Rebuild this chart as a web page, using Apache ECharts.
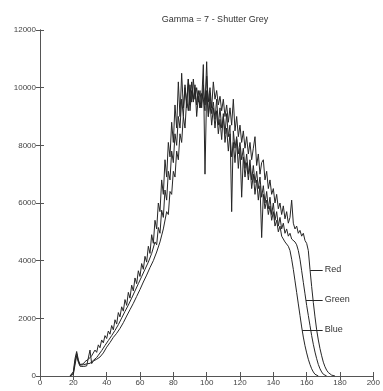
<!DOCTYPE html>
<html>
<head>
<meta charset="utf-8">
<script src="https://cdn.jsdelivr.net/npm/echarts@6/dist/echarts.min.js"></script>
<style>html,body{margin:0;padding:0;background:#fff}#c{width:383px;height:391px}</style>
</head>
<body>
<div id="c"></div>
<script>
const titleText = 'Gamma = 7 - Shutter Grey';
const xTicks = [0, 20, 40, 60, 80, 100, 120, 140, 160, 180, 200];
const yTicks = [0, 2000, 4000, 6000, 8000, 10000, 12000];
const firstBin = 18;

const blue = [0,0,150,600,850,560,400,440,420,500,470,580,540,700,650,900,820,1080,980,1250,1150,1400,1300,1560,1450,1750,1600,1950,1800,2200,2050,2400,2250,2650,2450,2900,2700,3150,2950,3400,3200,3650,3450,3900,3700,4150,3950,4500,4250,4900,4600,5400,5100,6000,5700,6800,6300,7500,6900,8100,7600,8800,8100,9400,8600,10200,9000,10500,9300,10000,9500,10300,9200,9900,9600,10100,9000,9700,9300,9500,10800,7000,
9900,9000,9500,8700,9300,8600,9200,8400,8900,8200,9100,8100,8600,7800,8400,7600,8100,7400,8200,7200,7900,6200,7600,6900,7400,6800,7300,6500,7000,6300,6800,6100,6600,4800,6300,5800,6100,5600,5900,5400,5700,5200,5400,5000,5200,4850,4900,4650,4700,4500,4350,4050,3700,3300,2900,2500,2100,1700,1350,1050,800,580,400,250,140,60,20,0];

const green = [0,0,100,480,780,520,380,360,390,370,420,400,
440,500,540,600,640,720,780,880,940,1060,
1110,1230,1270,1400,1430,1580,1600,1780,1800,2010,
2020,2240,2230,2460,2450,2700,2680,2950,2920,3200,
3170,3450,3420,3700,3660,3950,3920,4250,4200,4650,
4550,5150,4950,5750,5500,6450,6100,7100,6800,7800,
7400,8400,8000,9000,8600,9600,9000,10100,9300,10300,
9400,10200,9500,10000,9400,9900,9300,9800,9600,9200,
10900,9000,9800,9100,9500,8900,9600,8700,9300,8600,9000,8400,9100,8300,8700,5700,8500,7900,8300,7700,8100,7500,7900,7200,7700,7000,7500,6800,7300,6700,7100,6500,6900,6200,6600,6000,6400,5800,6200,5600,6000,5400,5700,5200,5500,5100,5300,4950,5100,4850,4950,4750,4800,4650,4550,4350,4050,3650,3250,2850,2450,2100,1750,1400,1100,830,600,400,250,140,60,20,0];

const red = [0,0,60,380,700,480,340,310,330,320,350,340,
900,430,520,480,580,540,660,620,800,780,
1000,950,1160,1120,1340,1280,1480,1430,1650,1600,
1850,1800,2080,2020,2300,2240,2520,2460,2760,2700,
3000,2950,3260,3200,3500,3450,3760,3700,4000,3950,
4300,4250,4650,4600,5100,5100,5700,5600,6400,6300,
7100,6900,7800,7500,8400,8100,9000,8600,9600,9200,
10100,9500,10300,9600,10000,9500,9900,9300,10100,9400,
10400,9500,10000,9300,10200,9600,9900,9400,9700,9200,9600,9000,9400,8800,9300,8700,9600,8500,9000,8300,8700,8100,8500,7900,8300,7700,8100,7500,7900,8300,7300,7700,7000,7400,7500,6800,7100,6500,6800,6300,6500,6000,6300,5800,6000,5600,5900,5450,5700,5300,5500,6100,5300,5100,5200,4950,5050,4850,4950,4700,4600,4350,3700,3100,2550,2050,1600,1250,950,700,480,320,200,120,70,30,10,0];

const seriesNames = ['Red', 'Green', 'Blue'];
const labelLevels = [3676, 2636, 1595];
const labelStarts = [162.1, 159.6, 157.3];
const labelEnd = 169.6;

const toPairs = arr => arr.map((v, i) => [firstBin + i, v]);
const dataSets = [red, green, blue];

const chart = echarts.init(document.getElementById('c'), null, {renderer: 'canvas'});
const lineCol = '#262626';
const txtCol = '#444';

const series = dataSets.map((d, k) => ({
  name: seriesNames[k],
  type: 'line',
  data: toPairs(d),
  showSymbol: false,
  symbol: 'none',
  animation: false,
  lineStyle: {color: lineCol, width: 1},
  markLine: {
    silent: true,
    symbol: 'none',
    animation: false,
    lineStyle: {color: lineCol, width: 1, type: 'solid'},
    label: {show: true, position: 'end', formatter: seriesNames[k], color: '#333', fontSize: 9, fontFamily: 'Liberation Sans', distance: 2},
    data: [[{coord: [labelStarts[k], labelLevels[k]]}, {coord: [labelEnd, labelLevels[k]]}]]
  }
}));

const axisFont = {color: txtCol, fontSize: 8, fontFamily: 'Liberation Sans', formatter: v => String(v)};
const tickStyle = {show: true, inside: true, length: 4, lineStyle: {color: '#555'}};
const lineStyleAx = {show: true, lineStyle: {color: '#555', width: 1}};

chart.setOption({
  animation: false,
  backgroundColor: '#fff',
  title: {
    text: titleText,
    left: 210, top: 10, textAlign: 'center',
    textStyle: {fontSize: 9, fontWeight: 'normal', color: '#333', fontFamily: 'Liberation Sans'}
  },
  grid: {left: 40, right: 3, top: 30, bottom: 15, containLabel: false},
  xAxis: [
    {type: 'value', min: xTicks[0], max: xTicks[xTicks.length - 1], interval: 20, position: 'bottom',
     axisLine: lineStyleAx, axisTick: tickStyle,
     axisLabel: Object.assign({margin: 3}, axisFont),
     splitLine: {show: false}},
    {type: 'value', min: xTicks[0], max: xTicks[xTicks.length - 1], interval: 20, position: 'top',
     axisLine: lineStyleAx, axisTick: tickStyle,
     axisLabel: {show: false}, splitLine: {show: false}}
  ],
  yAxis: [
    {type: 'value', min: yTicks[0], max: yTicks[yTicks.length - 1], interval: 2000, position: 'left',
     axisLine: lineStyleAx, axisTick: tickStyle,
     axisLabel: Object.assign({margin: 4}, axisFont),
     splitLine: {show: false}},
    {type: 'value', min: yTicks[0], max: yTicks[yTicks.length - 1], interval: 2000, position: 'right',
     axisLine: lineStyleAx, axisTick: tickStyle,
     axisLabel: {show: false}, splitLine: {show: false}}
  ],
  series: series
});
</script>
</body>
</html>
